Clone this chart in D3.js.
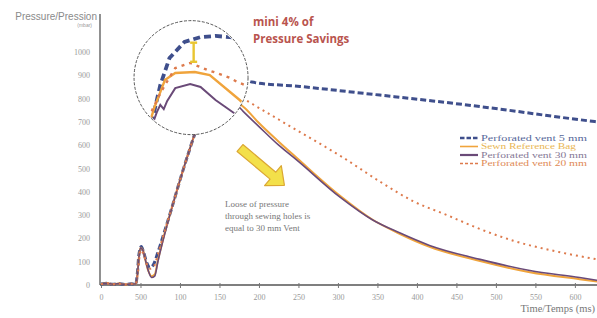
<!DOCTYPE html>
<html>
<head>
  <script src="https://d3js.org/d3.v7.min.js"></script>
  <style>
    body { margin: 0; background: #fff; }
    svg { display: block; }
  </style>
</head>
<body>
  <script>
    // Time (ms) / pressure (mbar) readings per series
    const vent5 = [[0,4],[8,7],[15,3],[22,6],[30,2],[38,5],[44,4],[46,50],[48,130],[51,165],[54,140],[58,95],[62,75],[66,85],[72,140],[80,225],[90,335],[100,450],[113,590],[125,710],[140,860],[160,900],[180,885],[191,871],[252,852],[353,815],[420,790],[505,755],[570,725],[628,700]];
    const sewn = [[0,4],[8,7],[15,3],[22,6],[30,2],[38,5],[44,4],[46,40],[48,120],[50,160],[53,150],[56,110],[60,60],[64,38],[68,45],[72,105],[80,215],[90,335],[100,450],[113,590],[125,710],[140,800],[155,810],[170,790],[182,760],[200,695],[225,615],[248,545],[303,382],[344,280],[378,220],[416,164],[480,103],[543,55],[606,25],[628,15]];
    const vent30 = [[0,4],[8,7],[15,3],[22,6],[30,2],[38,5],[44,4],[46,40],[48,120],[50,160],[53,150],[56,110],[60,60],[64,32],[68,38],[72,100],[80,210],[90,335],[100,450],[113,590],[125,710],[140,790],[155,800],[170,780],[180,745],[200,680],[225,600],[248,536],[303,376],[344,279],[378,224],[416,170],[480,110],[543,62],[606,32],[628,20]];
    const vent20 = [[0,4],[8,7],[15,3],[22,6],[30,2],[38,5],[44,4],[47,60],[50,150],[54,130],[58,90],[62,70],[67,80],[73,145],[80,225],[90,335],[100,450],[113,590],[125,710],[140,830],[160,830],[180,800],[195,770],[250,660],[305,550],[355,440],[395,360],[438,300],[480,240],[522,190],[575,145],[628,110]];

    // Magnified peak shown in the circle
    const inVent5 = [[95,560],[100,640],[106,730],[112,858],[120,974],[133,1043],[147,1064],[160,1069],[181,1060],[200,1055]];
    const inSewn = [[95,560],[103,700],[107,764],[112,828],[116,880],[125,910],[142,914],[155,901],[181,794],[195,730]];
    const inVent30 = [[95,540],[105,687],[109,742],[112,773],[115,755],[118,790],[125,845],[138,863],[147,850],[160,794],[181,721],[195,680]];
    const inVent20 = [[95,580],[105,751],[110,803],[116,858],[125,931],[138,953],[153,923],[161,910],[173,888],[179,871],[195,840]];

    const xTicks = [0,50,100,150,200,250,300,350,400,450,500,550,600];
    const xTickLabels = ["0","500","100","150","200","250","300","350","400","450","500","550","600"];
    const yTicks = [0,100,200,300,400,500,600,700,800,900,1000];

    const legendNames = ["Perforated vent 5 mm","Sewn Reference Bag","Perforated vent 30 mm","Perforated vent 20 mm"];
    const noteLines = ["Loose of pressure","through sewing holes is","equal to 30 mm Vent"];

    const W = 597, H = 318;
    const svg = d3.select("body").append("svg")
      .attr("width", W)
      .attr("height", H);

    const x = d3.scaleLinear().domain([0, 628]).range([101, 597]);
    const y = d3.scaleLinear().domain([0, 1000]).range([285, 52]);

    const styles = [
      {stroke: "#3f4f8c", width: 3, dash: "6,3"},
      {stroke: "#f0a43c", width: 2, dash: null},
      {stroke: "#6a4a78", width: 1.6, dash: null},
      {stroke: "#dd7a4c", width: 2, dash: "2,4"}
    ];
    const legendColors = ["#56679a", "#e9b653", "#857896", "#e08a55"];

    // axes
    svg.append("line")
      .attr("x1", 100).attr("x2", 100)
      .attr("y1", 14).attr("y2", y(0))
      .attr("stroke", "#555").attr("stroke-width", 1.3);

    const xAxis = d3.axisBottom(x)
      .tickValues(xTicks)
      .tickSize(3)
      .tickFormat((d, i) => xTickLabels[i]);
    const gx = svg.append("g")
      .attr("transform", `translate(0,${y(0)})`)
      .call(xAxis);
    gx.select(".domain").attr("d", `M100,0H597`).attr("stroke", "#555").attr("stroke-width", 1.3);
    gx.selectAll(".tick line").attr("stroke", "#777").attr("y1", -2);
    gx.selectAll(".tick text")
      .attr("y", 9)
      .style("font-family", "Liberation Serif")
      .style("font-size", "8px")
      .style("fill", "#999");

    svg.append("g").selectAll("text")
      .data(yTicks)
      .enter().append("text")
      .attr("x", 90)
      .attr("y", d => y(d) + 3)
      .attr("text-anchor", "end")
      .style("font-family", "Liberation Serif")
      .style("font-size", "8px")
      .style("fill", "#999")
      .text(d => d);

    svg.append("text")
      .attr("x", 97).attr("y", 20)
      .attr("text-anchor", "end")
      .style("font-family", "Liberation Sans")
      .style("font-size", "10px")
      .style("fill", "#8a8a8a")
      .text("Pressure/Pression");
    svg.append("text")
      .attr("x", 92).attr("y", 27)
      .attr("text-anchor", "end")
      .style("font-family", "Liberation Sans")
      .style("font-size", "5px")
      .style("fill", "#999")
      .text("(mbar)");

    svg.append("text")
      .attr("x", 595).attr("y", 312)
      .attr("text-anchor", "end")
      .style("font-family", "Liberation Serif")
      .style("font-size", "10.5px")
      .style("fill", "#777")
      .text("Time/Temps (ms)");

    // main curves
    const line = d3.line()
      .x(d => x(d[0]))
      .y(d => y(d[1]))
      .curve(d3.curveMonotoneX);

    [vent5, sewn, vent30, vent20].forEach((s, i) => {
      svg.append("path")
        .datum(s)
        .attr("fill", "none")
        .attr("stroke", styles[i].stroke)
        .attr("stroke-width", styles[i].width)
        .attr("stroke-dasharray", styles[i].dash)
        .attr("d", line);
    });

    // magnifier circle
    const cx = x(114), cy = y(890), r = 57;
    svg.append("clipPath").attr("id", "lens")
      .append("circle").attr("cx", cx).attr("cy", cy).attr("r", r - 1);
    svg.append("circle")
      .attr("cx", cx).attr("cy", cy).attr("r", r)
      .attr("fill", "#fff")
      .attr("stroke", "#444")
      .attr("stroke-width", 0.9)
      .attr("stroke-dasharray", "3,1.5");

    const xIn = d3.scaleLinear().domain([90, 190]).range([135, 250]);
    const lineIn = d3.line()
      .x(d => xIn(d[0]))
      .y(d => y(d[1]))
      .curve(d3.curveLinear);
    const inset = svg.append("g").attr("clip-path", "url(#lens)");
    [inVent5, inSewn, inVent30, inVent20].forEach((s, i) => {
      inset.append("path")
        .datum(s)
        .attr("fill", "none")
        .attr("stroke", styles[i].stroke)
        .attr("stroke-width", i === 0 ? 3.8 : styles[i].width + 0.4)
        .attr("stroke-dasharray", i === 0 ? "7,4" : (i === 3 ? "3,5" : null))
        .attr("d", lineIn);
    });

    // yellow gap marker
    const bx = xIn(141), b1 = y(1040), b2 = y(958);
    const beam = svg.append("g").attr("stroke", "#e9c531").attr("stroke-width", 2.4);
    beam.append("line").attr("x1", bx).attr("x2", bx).attr("y1", b1).attr("y2", b2);
    beam.append("line").attr("x1", bx - 3.5).attr("x2", bx + 3.5).attr("y1", b1).attr("y2", b1);
    beam.append("line").attr("x1", bx - 3.5).attr("x2", bx + 3.5).attr("y1", b2).attr("y2", b2);

    // annotation title
    const note = svg.append("text")
      .style("font-family", "Open Sans")
      .style("font-weight", "bold")
      .style("font-size", "11.5px")
      .style("fill", "#b9544e");
    note.append("tspan").attr("x", 253).attr("y", 26).text("mini 4% of");
    note.append("tspan").attr("x", 253).attr("y", 42.5).text("Pressure Savings");

    // yellow arrow
    const L = 58;
    svg.append("path")
      .attr("transform", "translate(240,148) rotate(40)")
      .attr("d", `M0,-4.5H${L - 15}V-13L${L},0L${L - 15},13V4.5H0Z`)
      .attr("fill", "#f3e04a")
      .attr("stroke", "#dba733")
      .attr("stroke-width", 1.2)
      .attr("stroke-linejoin", "round");

    svg.append("g").selectAll("text")
      .data(noteLines)
      .enter().append("text")
      .attr("x", 225)
      .attr("y", (d, i) => 207 + i * 12)
      .style("font-family", "Liberation Serif")
      .style("font-size", "9px")
      .style("fill", "#777")
      .text(d => d);

    // legend
    const lg = svg.append("g").attr("transform", "translate(460,138)");
    legendNames.forEach((name, i) => {
      const row = lg.append("g").attr("transform", `translate(0,${i * 8.5})`);
      row.append("line")
        .attr("x1", 0).attr("x2", 18)
        .attr("stroke", styles[i].stroke)
        .attr("stroke-width", i === 0 ? 2.6 : (i === 2 ? 2.2 : 1.6))
        .attr("stroke-dasharray", i === 0 ? "4.5,2" : (i === 3 ? "3,2" : null));
      row.append("text")
        .attr("x", 21).attr("y", 2.6)
        .attr("textLength", i === 1 ? 95 : 106)
        .attr("lengthAdjust", "spacingAndGlyphs")
        .style("font-family", "Liberation Serif")
        .style("font-size", "7.5px")
        .style("fill", legendColors[i])
        .text(name);
    });
  </script>
</body>
</html>
